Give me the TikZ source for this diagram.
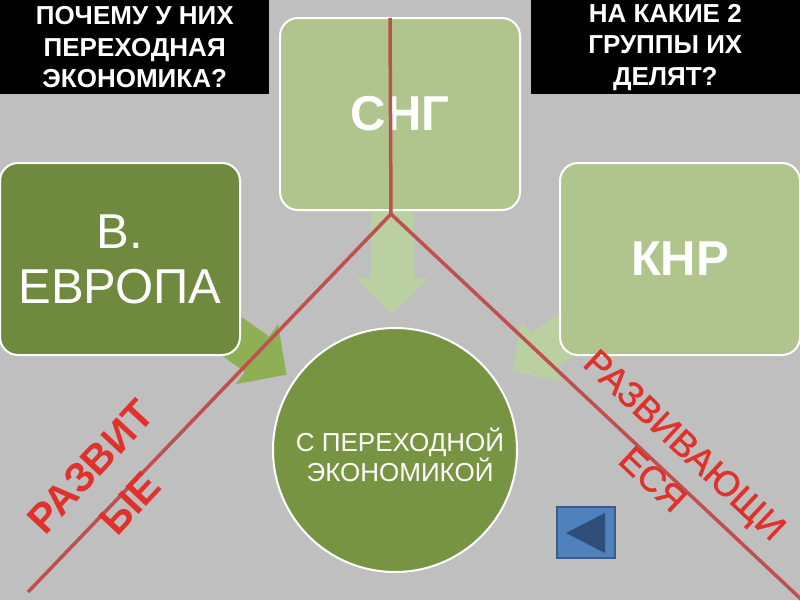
\documentclass[tikz,border=0pt]{standalone}
\usepackage{fontspec}
\setmainfont{Liberation Sans}
\newfontfamily\redfont{Liberation Sans}[FakeBold=1.3]
\usepackage{xcolor}
\usetikzlibrary{shapes.geometric, arrows.meta, positioning, backgrounds}
\definecolor{slideGray}{HTML}{BFBFBF}
\definecolor{darkGreen}{HTML}{6F8A3F}
\definecolor{paleGreen}{HTML}{B0C48E}
\definecolor{arrowPale}{HTML}{BAD0A0}
\definecolor{arrowMid}{HTML}{8FAF55}
\definecolor{circGreen}{HTML}{779442}
\definecolor{lineRed}{HTML}{C0504D}
\definecolor{textRed}{HTML}{E0322C}
\definecolor{btnBlue}{HTML}{4F81BD}
\definecolor{btnEdge}{HTML}{385D8A}
\definecolor{btnDark}{HTML}{2F4E7A}
\tikzset{
  % Diagram styles
  headbox/.style={rectangle, minimum width=269pt, minimum height=94pt, inner sep=0pt, fill=black, text=white, font=\fontsize{26}{31.5}\selectfont\bfseries, align=center},
  block/.style={rectangle, rounded corners=18pt, minimum width=240pt, minimum height=192pt, inner sep=0pt, draw=white, line width=2pt, fill=#1, text=white, font=\fontsize{49}{55}\selectfont, align=center},
  block/.default={paleGreen},
  hub/.style={circle, minimum size=244pt, inner sep=0pt, draw=white, line width=2pt, fill=circGreen},
  hubtext/.style={text=white, font=\fontsize{26}{30}\selectfont, align=center},
  blockarrow/.style={-{Triangle[length=36pt, width=71pt]}, line width=43pt, color=#1},
  redline/.style={draw=lineRed, line width=3.5pt, line join=bevel, preaction={draw=black, opacity=.2, transform canvas={xshift=1pt, yshift=-1pt}}},
}
\begin{document}
\begin{tikzpicture}[x=1pt, y=-1pt]
    \useasboundingbox (0,0) rectangle (800,600);
    % Header boxes
    \node[headbox, anchor=north west] (whyBox) at (0,0) {ПОЧЕМУ У НИХ\\ПЕРЕХОДНАЯ\\ЭКОНОМИКА?};
    \node[headbox, anchor=north east] (groupBox) at (800,0) {НА КАКИЕ 2\\ГРУППЫ ИХ\\ДЕЛЯТ?};
    % Green blocks
    \node[block] (cis) at (400,114) {\bfseries СНГ};
    \node[block=darkGreen] (europe) at (120,259) {В.\\ЕВРОПА};
    \node[block] (china) at (680,259) {\bfseries КНР};
    \node[hub] (hub) at (395,450) {};
    \node[hubtext] (hubText) at (400,455) {С ПЕРЕХОДНОЙ\\ЭКОНОМИКОЙ};
    \coordinate (cisTip) at (392,314);
    % Block arrows and slide background
    \begin{scope}[on background layer]
      \fill[slideGray] (0,0) rectangle (800,600);
      \draw[blockarrow=arrowPale, shorten <=-10pt] (cisTip |- cis.south) -- (cisTip);
      \draw[blockarrow=arrowPale, shorten <=-40pt, shorten >=18pt] (china) -- (hub);
      \draw[blockarrow=arrowMid, shorten <=-40pt, shorten >=9pt] (europe) -- (hub);
    \end{scope}
    % Red dividing lines
    \coordinate (apex) at (391,214);
    \coordinate (topEnd) at (390,18);
    \coordinate (leftEnd) at (28,592);
    \coordinate (rightEnd) at (803,601);
    \draw[redline] (topEnd) -- (apex);
    \draw[redline] (leftEnd) -- (apex) -- (rightEnd);
    % Red labels
    \node[text=textRed, font=\fontsize{41}{54}\selectfont\bfseries, align=center, rotate=47] (grownLabel) at (110,485) {РАЗВИТ\\ЫЕ};
    \node[text=textRed, font=\fontsize{36}{47}\selectfont\redfont, align=center, rotate=-43] (growingLabel) at (669,462) {РАЗВИВАЮЩИ\\ЕСЯ};
    % Back button
    \node[rectangle, minimum width=58pt, minimum height=51pt, inner sep=0pt, draw=btnEdge, line width=1.5pt, fill=btnBlue] (backBtn) at (586,532.5) {};
    \fill[btnDark] (566,533) -- (605,513) -- (605,553) -- cycle;
\end{tikzpicture}
\end{document}
